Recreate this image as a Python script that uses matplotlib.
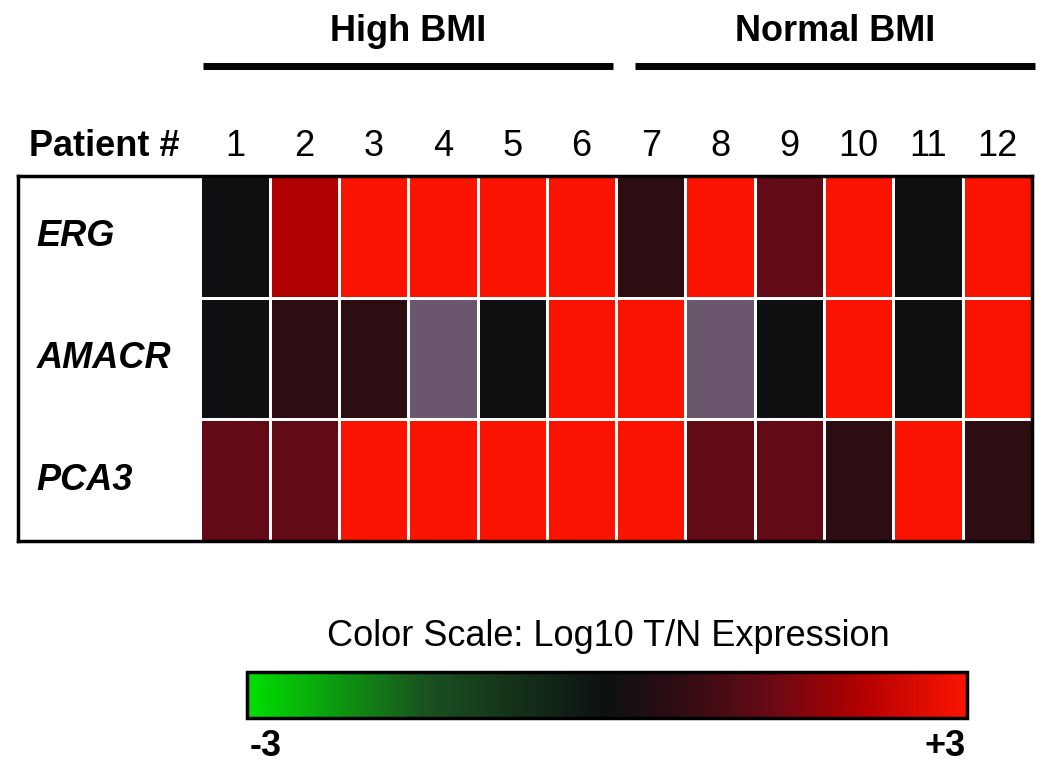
import numpy as np
import matplotlib
matplotlib.use("Agg")
import matplotlib.pyplot as plt
from matplotlib.colors import LinearSegmentedColormap

plt.rcParams['font.family'] = ['Liberation Sans', 'DejaVu Sans']

# Daten: Log10 T/N Expression (NaN = nicht bestimmt, grau)
patients = [str(i) for i in range(1, 13)]
genes = ['ERG', 'AMACR', 'PCA3']
erg = [0.0, 2.1, 3.0, 3.0, 3.0, 3.0, 0.6, 3.0, 1.3, 3.0, 0.0, 3.0]
amacr = [0.0, 0.6, 0.6, np.nan, 0.0, 3.0, 3.0, np.nan, 0.0, 3.0, 0.0, 3.0]
pca3 = [1.3, 1.3, 3.0, 3.0, 3.0, 3.0, 3.0, 1.3, 1.3, 0.6, 3.0, 0.6]
groups = ['High BMI', 'Normal BMI']
group_spans = [(0.04, 5.95), (6.27, 12.04)]
vmin, vmax = -3, 3

werte = np.ma.masked_invalid(np.array([erg, amacr, pca3]))

cmap = LinearSegmentedColormap.from_list('gr', [
    (0.0, '#00e000'), (0.25, '#1a5020'), (0.5, '#0d1012'),
    (0.6, '#2e0d12'), (0.717, '#620a16'), (0.85, '#b00000'), (1.0, '#fa1400')])
cmap.set_bad('#6a576e')

W, H = 1050, 780
fs = 26
fig = plt.figure(figsize=(10.5, 7.8), dpi=100)

# Heatmap-Achse (inkl. weisser Beschriftungsspalte)
ax = fig.add_axes([18 / W, 1 - 541 / H, 1014 / W, 365 / H])
mesh = ax.pcolormesh(np.arange(13), np.arange(4), werte, cmap=cmap,
                     vmin=vmin, vmax=vmax, edgecolors='white', linewidth=2)
ax.set_xlim(-2.63, 12)
ax.set_ylim(3, 0)
ax.set_xticks([])
ax.set_yticks([])
for s in ax.spines.values():
    s.set_linewidth(2.5)
    s.set_color('black')

tr = ax.get_xaxis_transform()
for i, p in enumerate(patients):
    ax.text(i + 0.5, 1.08, p, transform=tr, ha='center', va='center', fontsize=fs)
ax.text(-1.38, 1.08, 'Patient #', transform=tr, ha='center', va='center',
        fontsize=fs, fontweight='bold')

for j, g in enumerate(genes):
    ax.text(-2.36, j + 0.5, g, ha='left', va='center', fontsize=fs,
            fontweight='bold', fontstyle='italic')

# Gruppen
for g, (x0, x1) in zip(groups, group_spans):
    ax.plot([x0, x1], [1.301, 1.301], transform=tr, color='black', lw=5,
            solid_capstyle='butt', clip_on=False)
    ax.text((x0 + x1) / 2, 1.397, g, transform=tr, ha='center', va='center',
            fontsize=fs, fontweight='bold')

# Farbskala
cax = fig.add_axes([247 / W, 1 - 718 / H, 720 / W, 46 / H])
cb = fig.colorbar(mesh, cax=cax, orientation='horizontal')
cb.set_ticks([])
cb.outline.set_linewidth(2.5)
fig.text(608 / W, 1 - 637 / H, 'Color Scale: Log10 T/N Expression',
         ha='center', va='center', fontsize=fs)
fig.text(266 / W, 1 - 747 / H, '-3', ha='center', va='center', fontsize=fs,
         fontweight='bold')
fig.text(945 / W, 1 - 747 / H, '+3', ha='center', va='center', fontsize=fs,
         fontweight='bold')

fig.savefig('out.png', dpi=100)
